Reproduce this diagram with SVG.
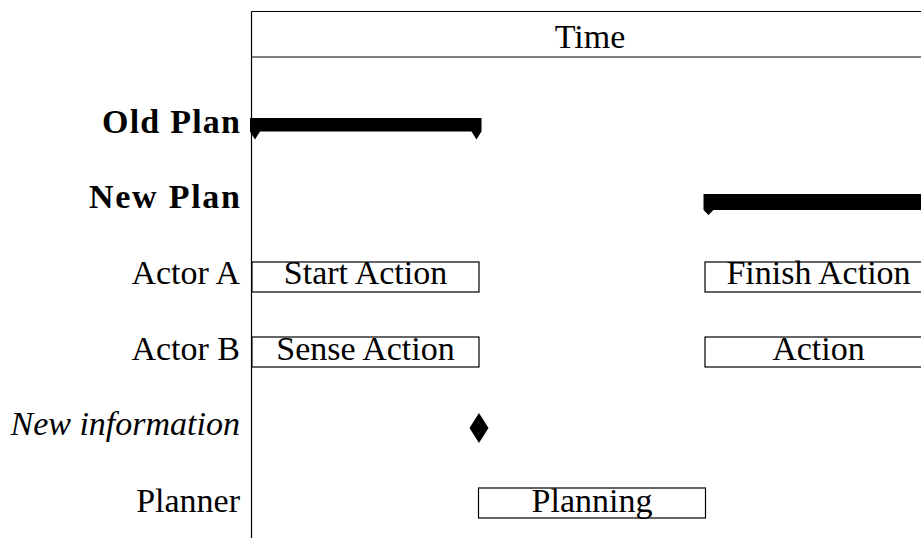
<svg xmlns="http://www.w3.org/2000/svg" width="921" height="538" viewBox="0 0 921 538">
<style>
text{font-size:34px;fill:#000}
.lbl{text-anchor:end}
.mid{text-anchor:middle}
.box{fill:#fff;stroke:#000;stroke-width:1.2}
.grid{fill:none;stroke:#000;stroke-width:1.2}
</style>
<g font-family="Liberation Serif">
<g id="frame">
<line class="grid" x1="251.5" y1="11.5" x2="251.5" y2="538"/>
<line class="grid" x1="251.5" y1="11.5" x2="921" y2="11.5"/>
<line class="grid" x1="251.5" y1="57" x2="921" y2="57"/>
<text class="mid" x="590" y="48" font-size="33">Time</text>
</g>
<g id="old-plan">
<text class="lbl" x="240" y="133" font-weight="bold" textLength="138" lengthAdjust="spacing">Old Plan</text>
<path d="M250,118 H481.5 V131.5 L476.5,139.5 L471.5,131.5 H260 L255,139.5 L250,131.5 Z" fill="#000"/>
</g>
<g id="new-plan">
<text class="lbl" x="240" y="208" font-weight="bold" textLength="151" lengthAdjust="spacing">New Plan</text>
<path d="M703.5,194 H921 V210 H713.5 L708.5,215 L703.5,210 Z" fill="#000"/>
</g>
<g id="actor-a">
<text class="lbl" x="240" y="284">Actor A</text>
<rect class="box" x="252" y="262" width="227" height="30"/>
<text class="mid" x="365.5" y="284">Start Action</text>
<rect class="box" x="705" y="262" width="227" height="30"/>
<text class="mid" x="818.5" y="284">Finish Action</text>
</g>
<g id="actor-b">
<text class="lbl" x="240" y="360">Actor B</text>
<rect class="box" x="252" y="337" width="227" height="30"/>
<text class="mid" x="365.5" y="360">Sense Action</text>
<rect class="box" x="705" y="337" width="227" height="30"/>
<text class="mid" x="818.5" y="360">Action</text>
</g>
<g id="new-information">
<text class="lbl" x="240" y="435" font-style="italic">New information</text>
<path d="M479,413 L488.5,428 L479,443 L469.5,428 Z" fill="#000"/>
</g>
<g id="planner">
<text class="lbl" x="240" y="512">Planner</text>
<rect class="box" x="478.5" y="488" width="227" height="30"/>
<text class="mid" x="592" y="512">Planning</text>
</g>
<g id="connectors"/>
</g>
</svg>
